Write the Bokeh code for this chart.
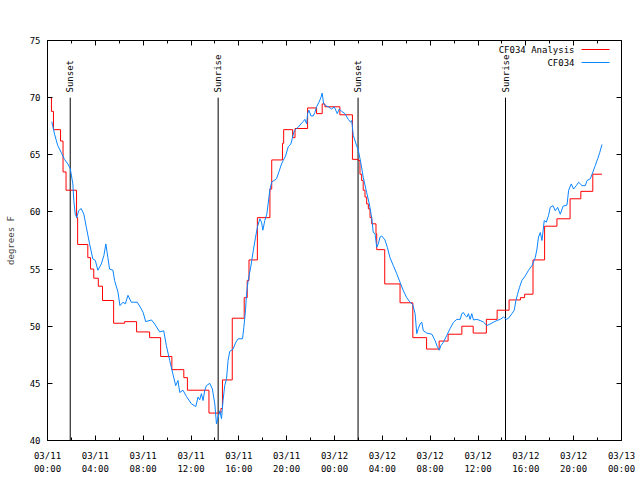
import math
from bokeh.plotting import figure
from bokeh.models import Range1d, LinearAxis, FixedTicker, Label, Arrow, CustomJSTickFormatter
from bokeh.embed import file_html
from bokeh.resources import INLINE

# ---------------- data ----------------
title_text = "Temperature for CF034 on 2025-Mar-11 (time in UTC)"
y_label = "degrees F"

xtick_hours = [0, 4, 8, 12, 16, 20, 24, 28, 32, 36, 40, 44, 48]
xtick_labels = ["03/11\n00:00", "03/11\n04:00", "03/11\n08:00", "03/11\n12:00",
                "03/11\n16:00", "03/11\n20:00", "03/12\n00:00", "03/12\n04:00",
                "03/12\n08:00", "03/12\n12:00", "03/12\n16:00", "03/12\n20:00",
                "03/13\n00:00"]
xminor_hours = [2, 6, 10, 14, 18, 22, 26, 30, 34, 38, 42, 46]
ytick_values = [40, 45, 50, 55, 60, 65, 70, 75]

event_hours = [1.9, 14.27, 25.97, 38.3]
event_labels = ["Sunset", "Sunrise", "Sunset", "Sunrise"]
event_top = 70.0

# observations (CF034), hours since 03/11 00:00 UTC
obs_hours = [0.36, 0.59, 0.86, 1.15, 1.42, 1.70, 1.90, 2.12, 2.20, 2.32, 2.45, 2.60, 2.82,
             3.04, 3.24, 3.52, 3.79, 4.00, 4.21, 4.50, 4.72, 4.88, 5.05, 5.19, 5.47, 5.61,
             5.89, 6.06, 6.31, 6.51, 6.73, 7.01, 7.51, 7.85, 8.00, 8.21, 8.69, 8.96, 9.38,
             9.72, 9.94, 10.22, 10.49, 10.72, 10.91, 11.06, 11.33, 11.62, 12.04, 12.40,
             12.59, 12.73, 12.87, 13.01, 13.15, 13.29, 13.57, 13.79, 13.99, 14.13, 14.26,
             14.41, 14.55, 14.68, 14.82, 14.97, 15.10, 15.24, 15.52, 15.75, 15.94, 16.31,
             16.42, 16.56, 16.64, 16.78, 17.00, 17.19, 17.40, 17.56, 17.76, 17.90, 18.01,
             18.17, 18.34, 18.45, 18.59, 18.74, 18.95, 19.15, 19.35, 19.57, 19.71, 19.91,
             20.13, 20.35, 20.46, 20.63, 20.83, 20.96, 21.19, 21.38, 21.52, 21.67, 21.75,
             21.86, 22.03, 22.22, 22.36, 22.50, 22.70, 22.86, 22.97, 23.09, 23.26, 23.48,
             23.76, 23.98, 24.23, 24.40, 24.60, 24.87, 25.15, 25.35, 25.44, 25.57, 25.80,
             25.99, 26.19, 26.41, 26.69, 26.91, 27.11, 27.24, 27.39, 27.53, 27.66, 27.81,
             27.95, 28.22, 28.42, 28.64, 28.92, 29.20, 29.48, 29.76, 30.04, 30.32, 30.54,
             30.74, 30.88, 31.01, 31.16, 31.30, 31.43, 31.72, 32.14, 32.41, 32.60, 32.77,
             32.89, 33.11, 33.39, 33.67, 33.95, 34.23, 34.51, 34.65, 34.78, 34.92, 35.07,
             35.20, 35.34, 35.48, 35.62, 35.90, 36.18, 36.46, 36.74, 37.02, 37.30, 37.58,
             37.86, 38.14, 38.36, 38.55, 38.84, 39.03, 39.17, 39.31, 39.47, 39.67, 39.95,
             40.23, 40.51, 40.79, 40.93, 41.06, 41.21, 41.35, 41.54, 41.71, 41.90, 42.04,
             42.27, 42.46, 42.66, 42.88, 43.11, 43.44, 43.58, 43.80, 43.99, 44.22, 44.41,
             44.70, 44.97, 45.12, 45.39, 45.54, 45.81, 46.01, 46.18, 46.37]
obs_temps = [67.9, 66.8, 65.8, 65.2, 64.6, 64.2, 63.8, 62.45, 61.0, 59.8, 59.5, 60.1, 60.3,
             59.8, 58.7, 57.2, 55.9, 55.75, 54.9, 55.45, 56.2, 57.2, 56.0, 55.0, 54.9, 54.0,
             53.0, 51.8, 52.1, 51.96, 52.7, 52.1, 52.1, 51.5, 51.2, 50.4, 50.55, 50.2, 49.5,
             49.6, 48.3, 47.0, 45.8, 44.8, 45.25, 44.2, 44.4, 43.85, 43.2, 42.97,
             43.8, 43.56, 44.1, 43.5, 44.4, 44.8, 45.0, 44.5, 43.2, 41.45, 42.0,
             42.6, 41.9, 43.5, 44.8, 45.4, 47.0, 47.8, 48.0, 48.6, 48.9, 48.9,
             49.9, 51.4, 52.8, 54.0, 55.2, 56.5, 57.8, 58.7, 59.4, 59.1, 58.4,
             59.25, 59.8, 60.7, 61.9, 62.6, 62.75, 62.9, 63.5, 64.2, 64.5, 64.9,
             65.7, 65.95, 66.4, 67.1, 67.3, 67.4, 67.7, 67.9, 68.1, 67.7, 68.6,
             68.9, 68.4, 68.4, 68.7, 69.2, 69.6, 70.0, 70.4, 69.45, 69.3, 69.2,
             69.0, 69.2, 68.6, 69.0, 68.8, 68.6, 68.1, 67.85, 68.0, 66.7, 65.95,
             65.4, 64.35, 63.0, 61.7, 60.7, 59.5, 58.2, 58.1, 56.9, 57.2, 57.8,
             57.9, 57.55, 56.9, 56.0, 55.3, 54.6, 53.85, 53.1, 52.5, 52.1, 51.9,
             51.1, 49.35, 49.8, 50.2, 50.35, 49.6, 49.4, 49.3, 48.75, 48.2, 47.9,
             48.3, 48.6, 49.2, 49.8, 50.35, 50.6, 50.6, 51.1, 51.2, 50.95, 50.8,
             51.1, 50.6, 51.1, 50.55, 50.6, 50.5, 50.35, 50.06, 50.2, 50.35, 50.5,
             50.6, 50.8, 50.6, 50.7, 51.1, 51.4, 52.25, 52.8, 53.4, 54.0, 54.4,
             54.9, 55.3, 56.0, 56.75, 57.8, 58.2, 57.5, 59.25, 59.1, 59.7, 60.4,
             60.55, 60.1, 60.4, 59.8, 60.5, 60.6, 61.9, 62.45, 62.0, 62.3, 62.6,
             62.3, 62.3, 62.75, 62.9, 63.3, 64.06, 64.65, 65.2, 65.9]

# analysis (CF034 Analysis), step values starting at each hour listed
ana_hours = [0.17, 0.33, 0.5, 1.09, 1.3, 1.55, 2.43, 2.52, 3.37, 3.6, 3.87, 4.25, 4.6,
             5.53, 6.45, 7.45, 8.54, 9.46, 10.4, 11.4, 11.7, 13.5, 14.5, 14.63, 15.45,
             16.45, 16.7, 16.85, 17.55, 18.6, 18.75, 19.65, 19.75, 20.5, 20.7, 21.75,
             22.5, 22.97, 23.2, 24.45, 25.5, 25.99, 26.13, 26.27, 26.4, 26.55, 26.69,
             26.83, 26.97, 27.11, 27.47, 27.53, 28.2, 29.48, 30.55, 31.7, 32.75, 33.5,
             34.65, 35.6, 36.7, 37.6, 38.6, 39.55, 39.9, 40.6, 41.57, 42.6, 43.7, 44.6,
             45.6, 46.37]
ana_temps = [70.0, 68.8, 67.2, 66.2, 63.5, 61.9, 59.5, 57.15, 56.0, 55.0, 54.2, 53.5, 52.25,
             50.26, 50.4, 49.5, 49.0, 47.35, 46.2, 45.5, 44.4, 42.4, 42.8, 45.3, 50.7,
             52.5, 54.0, 55.8, 59.5, 62.0, 64.55, 66.0, 67.2, 66.5, 67.3, 69.1,
             68.6, 69.45, 69.2, 68.5, 64.6, 64.5, 63.3, 62.75, 61.9, 61.3, 60.7,
             60.27, 59.5, 58.96, 58.1, 56.7, 53.7, 52.05, 49.0, 48.0, 48.7, 49.3,
             50.0, 49.4, 50.6, 51.4, 52.3, 52.5, 52.8, 55.8, 58.75, 59.4, 61.15, 61.8,
             63.3, 63.3]

# ---------------- figure ----------------
FONT = "DejaVu Sans Mono"
FS = "9px"
red = "#ff0000"
blue = "#0a84ff"

p = figure(width=640, height=480, output_backend="svg", toolbar_location=None,
           x_range=Range1d(0, 48), y_range=Range1d(40, 75),
           min_border_left=47, min_border_right=19, min_border_top=40, min_border_bottom=40)
p.xgrid.visible = False
p.ygrid.visible = False
p.outline_line_color = "black"
p.outline_line_width = 1
p.background_fill_color = "white"
p.border_fill_color = "white"

xt = FixedTicker(ticks=xtick_hours, minor_ticks=xminor_hours)
yt = FixedTicker(ticks=ytick_values, minor_ticks=[])

def style_axis(ax):
    ax.axis_line_color = "black"
    ax.major_tick_in = 5
    ax.major_tick_out = 0
    ax.minor_tick_in = 3
    ax.minor_tick_out = 0
    ax.major_tick_line_color = "black"
    ax.minor_tick_line_color = "black"
    ax.major_label_text_font = FONT
    ax.major_label_text_font_size = FS
    ax.major_label_text_color = "black"

xa = p.xaxis[0]
xa.ticker = xt
xa.major_label_overrides = {h: lab for h, lab in zip(xtick_hours, xtick_labels)}
style_axis(xa)
xa.major_label_standoff = 10
xa.major_label_text_line_height = 1.35

ya = p.yaxis[0]
ya.ticker = yt
style_axis(ya)
ya.major_label_standoff = 7
ya.axis_label = y_label
ya.axis_label_text_font = FONT
ya.axis_label_text_font_size = FS
ya.axis_label_text_font_style = "normal"
ya.axis_label_standoff = 11

# mirrored tick marks on top and right (no labels)
blank = CustomJSTickFormatter(code="return '';")
top = LinearAxis(ticker=xt, formatter=blank, major_label_standoff=0)
style_axis(top)
p.add_layout(top, "above")
right = LinearAxis(ticker=yt, formatter=blank, major_label_standoff=0)
style_axis(right)
p.add_layout(right, "right")

# sunrise / sunset lines
p.segment(x0=event_hours, y0=[40] * len(event_hours), x1=event_hours,
          y1=[event_top] * len(event_hours), line_color="black", line_width=1)
for h, lab in zip(event_hours, event_labels):
    p.add_layout(Label(x=h, y=event_top + 0.45, text=lab, angle=math.pi / 2,
                       text_align="left", text_baseline="middle",
                       text_font=FONT, text_font_size=FS, text_color="black"))

# data lines
p.step(ana_hours, ana_temps, mode="after", line_color=red, line_width=1)
p.line(obs_hours, obs_temps, line_color=blue, line_width=1)

# title
p.add_layout(Label(x=273, y=420, x_units="screen", y_units="screen", text=title_text,
                   text_align="center", text_baseline="middle",
                   text_font=FONT, text_font_size=FS, text_color="black"))

# legend (gnuplot style: text then sample line)
leg_names = ["CF034 Analysis", "CF034"]
leg_colors = [red, blue]
for i, (name, col) in enumerate(zip(leg_names, leg_colors)):
    sy = 391 - 13 * i
    p.add_layout(Label(x=527, y=sy, x_units="screen", y_units="screen", text=name,
                       text_align="right", text_baseline="middle",
                       text_font=FONT, text_font_size=FS, text_color="black"))
    p.add_layout(Arrow(x_start=534, y_start=sy, x_end=562, y_end=sy,
                       start_units="screen", end_units="screen", end=None,
                       line_color=col, line_width=1))

open("out.html", "w").write(file_html(p, INLINE))
